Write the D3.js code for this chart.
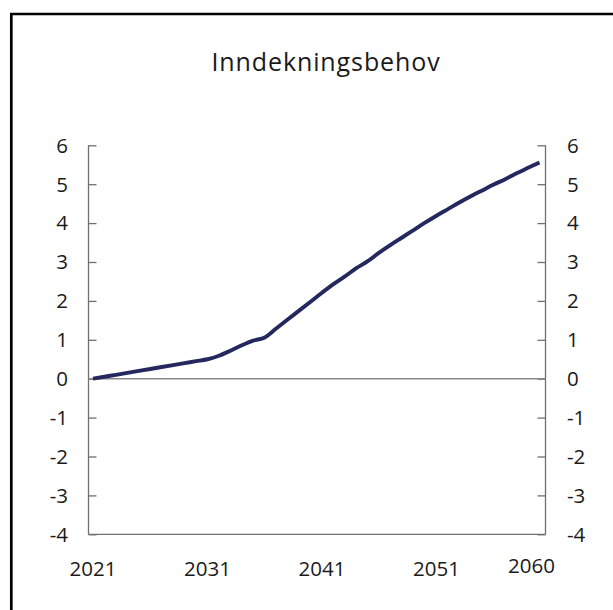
<!DOCTYPE html>
<html>
<head>
<meta charset="utf-8">
<script src="https://cdn.jsdelivr.net/npm/d3@7"></script>
<style>
  html, body { margin: 0; padding: 0; background: #fff; }
  svg { display: block; }
  text { font-family: "Open Sans", sans-serif; fill: #1a1a1a; }
</style>
</head>
<body>
<svg id="chart" width="613" height="610"></svg>
<script>
// Annual financing need, 2021–2060
const years = d3.range(2021, 2061);
const values = [
  0.00, 0.05, 0.10, 0.15, 0.20, 0.25, 0.30, 0.35, 0.40, 0.45,
  0.50, 0.59, 0.72, 0.86, 0.98, 1.06, 1.29, 1.52, 1.75, 1.98,
  2.21, 2.43, 2.63, 2.84, 3.02, 3.24, 3.44, 3.63, 3.82, 4.01,
  4.19, 4.36, 4.53, 4.69, 4.84, 4.99, 5.13, 5.28, 5.42, 5.56
];
const yTicks = [6, 5, 4, 3, 2, 1, 0, -1, -2, -3, -4];
const xTickYears = [2021, 2031, 2041, 2051, 2060];
const title = "Inndekningsbehov";

const svg = d3.select("#chart");

// outer frame
svg.append("path")
  .attr("d", "M11.3,620 L11.3,14 L620,14")
  .attr("fill", "none").attr("stroke", "#000").attr("stroke-width", 2.7);

const plotLeft = 88.5, plotRight = 545.5, plotTop = 145.3, plotBottom = 534.3;

const x = d3.scaleLinear().domain([2021, 2060]).range([93, 539.5]);
const y = d3.scaleLinear().domain([-4, 6]).range([plotBottom, plotTop]);

// title
svg.append("text")
  .attr("x", 326).attr("y", 70.7)
  .attr("text-anchor", "middle")
  .attr("font-size", 25)
  .attr("letter-spacing", "0.9px")
  .text(title);

const axisColor = "#6f6f6f";

// left and right axes, ticks pointing inward
const leftAxis = d3.axisLeft(y).tickValues(yTicks).tickSize(-8).tickFormat("");
const gl = svg.append("g").attr("transform", `translate(${plotLeft},0)`).call(leftAxis);
const rightAxis = d3.axisRight(y).tickValues(yTicks).tickSize(-8).tickFormat("");
const gr = svg.append("g").attr("transform", `translate(${plotRight},0)`).call(rightAxis);
[gl, gr].forEach(g => {
  g.select(".domain").attr("stroke", axisColor).attr("stroke-width", 1.3).attr("d", `M0,${plotTop}V${plotBottom}`);
  g.selectAll(".tick line").attr("stroke", axisColor).attr("stroke-width", 1.3);
});

// bottom axis line
svg.append("line")
  .attr("x1", plotLeft).attr("x2", plotRight).attr("y1", plotBottom).attr("y2", plotBottom)
  .attr("stroke", axisColor).attr("stroke-width", 1.3);

// zero line
svg.append("line")
  .attr("x1", plotLeft).attr("x2", plotRight).attr("y1", y(0)).attr("y2", y(0))
  .attr("stroke", "#8a8a8a").attr("stroke-width", 1.5);

// y labels on both sides
const labelSize = 20.5;
svg.append("g").selectAll("text").data(yTicks).join("text")
  .attr("x", 68).attr("y", d => y(d)).attr("dy", "0.36em")
  .attr("text-anchor", "end").attr("font-size", labelSize)
  .text(d => d);
svg.append("g").selectAll("text").data(yTicks).join("text")
  .attr("x", 567).attr("y", d => y(d)).attr("dy", "0.36em")
  .attr("text-anchor", "start").attr("font-size", labelSize)
  .text(d => d);

// x labels
svg.append("g").selectAll("text").data(xTickYears).join("text")
  .attr("x", d => x(d) + (d === 2060 ? -8 : 0))
  .attr("y", d => d === 2060 ? 572.7 : 576)
  .attr("text-anchor", "middle").attr("font-size", labelSize)
  .text(d => d);

// series line
const line = d3.line()
  .x((d, i) => x(years[i]))
  .y(d => y(d))
  .curve(d3.curveMonotoneX);
svg.append("path")
  .datum(values)
  .attr("d", line)
  .attr("fill", "none")
  .attr("stroke", "#25285f")
  .attr("stroke-width", 3.9)
  .attr("stroke-linejoin", "round")
  .attr("stroke-linecap", "butt");
</script>
</body>
</html>
